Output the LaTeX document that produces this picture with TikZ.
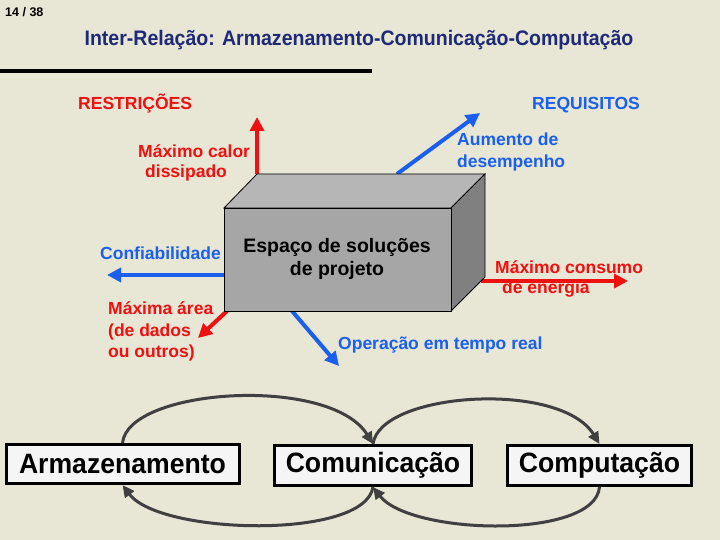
\documentclass[tikz,border=0pt]{standalone}
\usepackage{fontspec}
\setmainfont{Liberation Sans}
\usetikzlibrary{arrows.meta}
\definecolor{bg}{HTML}{E8E6D4}
\definecolor{myred}{HTML}{EE1111}
\definecolor{myblue}{HTML}{1A5FEE}
\definecolor{navy}{HTML}{1E2A78}
\definecolor{arcgray}{HTML}{404040}
\definecolor{frontgray}{HTML}{A6A6A6}
\definecolor{topgray}{HTML}{B6B6B6}
\definecolor{sidegray}{HTML}{808080}
\newcommand{\narrowtxt}[1]{\scalebox{0.95}[1]{#1}}
\begin{document}
\begin{tikzpicture}[x=1pt,y=-1pt,
  lbl/.style={font=\fontsize{17.5}{21}\selectfont\bfseries, inner sep=0pt, anchor=base west},
  redlbl/.style={lbl,text=myred},
  bluelbl/.style={lbl,text=myblue},
  bigarrow/.style={line width=4pt, -{Triangle[width=14pt,length=14pt]}},
  sysbox/.style={draw=black, line width=3pt, fill=white!96!black, inner sep=0pt,
    font=\fontsize{28}{31}\selectfont\bfseries},
  cycarrow/.style={draw=arcgray, line width=3pt, -{Triangle[width=11pt,length=12pt]}},
  boxtxt/.style={font=\fontsize{19.5}{23}\selectfont\bfseries, inner sep=0pt, anchor=base}
]
\fill[bg] (0,0) rectangle (720,540);
\useasboundingbox (0,0) rectangle (720,540);

% header
\node[anchor=west, font=\fontsize{12.5}{14}\selectfont\bfseries, inner sep=0pt] (pg) at (5,12) {14 / 38};
\node[font=\fontsize{21}{24}\selectfont\bfseries, text=navy, inner sep=0pt] (title) at (359,40)
  {\scalebox{0.93}[1]{Inter-Relação: Armazenamento-Comunicação-Computação}};
\coordinate (l1) at (0,71);
\coordinate (l2) at (372,71);
\draw[line width=4pt] (l1) -- (l2);

% cube corners
\coordinate (ftl) at (224,208);
\coordinate (ftr) at (451,208);
\coordinate (fbl) at (224,311);
\coordinate (fbr) at (451,311);
\coordinate (btl) at (257,174);
\coordinate (btr) at (485,174);
\coordinate (bbr) at (485,277);

% arrow coordinates
\coordinate (upE) at (257,117);
\coordinate (perfS) at (397,174);
\coordinate (perfE) at (480,113);
\coordinate (confS) at (224,275);
\coordinate (confE) at (107,275);
\coordinate (areaS) at (227,311);
\coordinate (areaE) at (198,338);
\coordinate (operS) at (292,311);
\coordinate (operE) at (339,366);
\coordinate (enerS) at (481,281);
\coordinate (enerE) at (628,281);

\draw[bigarrow, myred] (btl) -- (upE);
\draw[bigarrow, myblue] (perfS) -- (perfE);
\draw[bigarrow, myblue] (confS) -- (confE);
\draw[bigarrow, myred] (areaS) -- (areaE);
\draw[bigarrow, myblue] (operS) -- (operE);
\draw[bigarrow, myred] (enerS) -- (enerE);

% cube
\filldraw[fill=topgray, draw=black, line width=0.8pt] (ftl) -- (btl) -- (btr) -- (ftr) -- cycle;
\filldraw[fill=sidegray, draw=black, line width=0.8pt] (ftr) -- (btr) -- (bbr) -- (fbr) -- cycle;
\node[draw=black, line width=0.8pt, fill=frontgray, minimum width=227pt, minimum height=103pt, inner sep=0pt] (box) at (337.5,259.5) {};
\node[boxtxt] (boxA) at (337,252) {Espaço de soluções};
\node[boxtxt] (boxB) at (337,275) {de projeto};

% labels
\node[redlbl] (restr) at (78,110) {RESTRIÇÕES};
\node[bluelbl] (requi) at (532,110) {REQUISITOS};
\node[redlbl] (calorA) at (138,158) {Máximo calor};
\node[redlbl] (calorB) at (145,178) {dissipado};
\node[bluelbl] (aumA) at (457,146) {Aumento de};
\node[bluelbl] (aumB) at (457,168) {desempenho};
\node[bluelbl] (conf) at (100,259) {Confiabilidade};
\node[redlbl] (areaA) at (108,314) {Máxima área};
\node[redlbl] (areaB) at (108,336) {(de dados};
\node[redlbl] (areaC) at (108,357) {ou outros)};
\node[bluelbl] (oper) at (338,349) {Operação em tempo real};
\node[redlbl] (consA) at (495,273) {Máximo consumo};
\node[redlbl] (consB) at (502,293) {de energia};

% bottom boxes
\node[sysbox, minimum width=233pt, minimum height=39pt] (armaz) at (122.5,464) {\narrowtxt{Armazenamento}};
\node[sysbox, minimum width=197pt, minimum height=40pt] (comm) at (373,465.5) {\narrowtxt{Comunicação}};
\node[sysbox, minimum width=184pt, minimum height=40pt] (comp) at (599.5,465.5) {\narrowtxt{Computação}};

\draw[cycarrow] (armaz.north) .. controls (128,388) and (330,375) .. (comm.north);
\draw[cycarrow] (comm.north) .. controls (380,392) and (560,380) .. (comp.north);
\draw[cycarrow] (comp.south) .. controls (595,540) and (410,535) .. (comm.south);
\draw[cycarrow] (comm.south) .. controls (365,540) and (160,535) .. (armaz.south);
\end{tikzpicture}
\end{document}
